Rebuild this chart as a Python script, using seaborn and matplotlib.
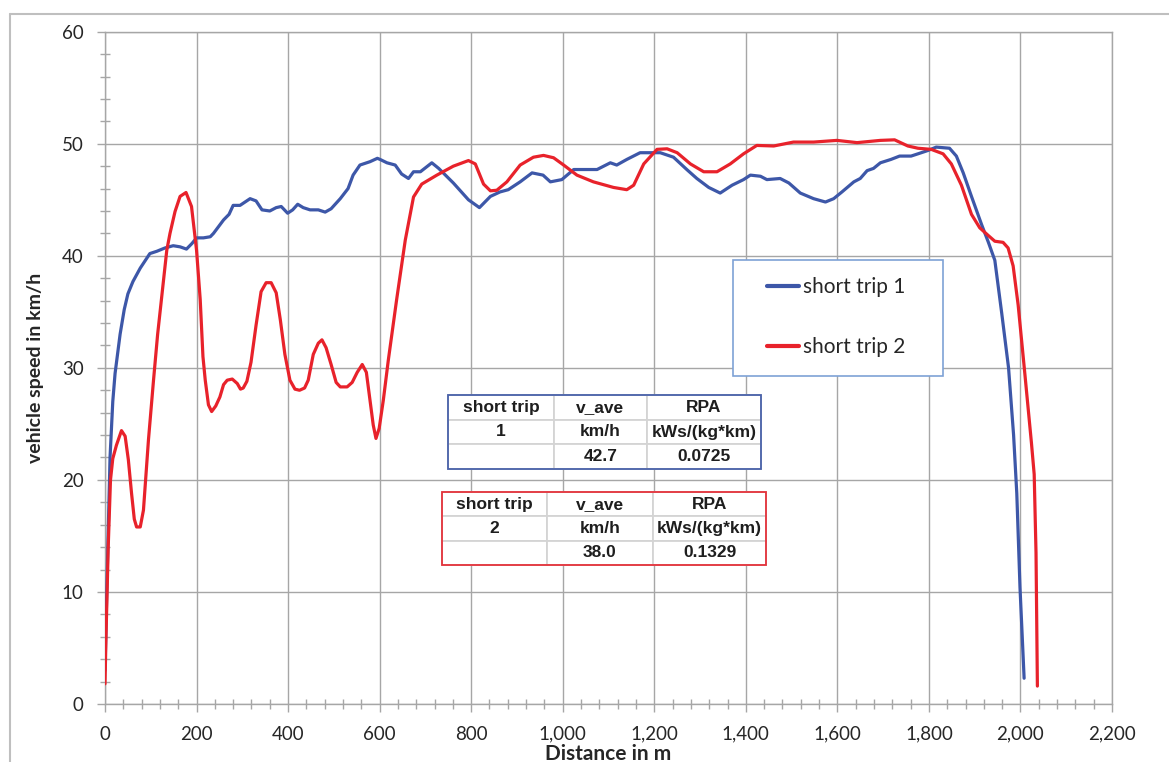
import matplotlib
matplotlib.use("Agg")
import matplotlib.pyplot as plt
from matplotlib.ticker import MultipleLocator, FuncFormatter
from matplotlib.patches import Rectangle
from matplotlib.lines import Line2D
import pandas as pd
import seaborn as sns

# ---- speed profiles (distance in m, speed in km/h) ----
dist_trip1 = [0, 5, 11, 17, 22, 33, 42, 50, 61, 77, 98, 113, 131, 149, 164, 178, 190,
              200, 215, 230, 237, 259, 271, 280, 295, 317, 330, 343, 360, 374, 385, 399,
              410, 421, 433, 448, 466, 481, 494, 514, 531, 542, 557, 579, 595, 601, 616,
              634, 648, 663, 674, 689, 714, 729, 761, 794, 818, 842, 863, 881, 907, 933,
              957, 973, 998, 1024, 1075, 1104, 1118, 1140, 1169, 1191, 1213, 1242, 1271,
              1293, 1319, 1344, 1370, 1395, 1410, 1432, 1446, 1475, 1494, 1519, 1548,
              1574, 1592, 1610, 1636, 1650, 1665, 1679, 1694, 1717, 1736, 1761, 1776,
              1798, 1816, 1845, 1860, 1875, 1893, 1915, 1930, 1944, 1959, 1974, 1985,
              1992, 1999, 2008]
speed_trip1 = [3.0, 12.0, 22.0, 27.0, 29.5, 33.0, 35.2, 36.6, 37.7, 38.9, 40.2, 40.4, 40.7,
               40.9, 40.8, 40.6, 41.1, 41.6, 41.6, 41.7, 42.0, 43.2, 43.7, 44.5, 44.5, 45.1,
               44.9, 44.1, 44.0, 44.3, 44.4, 43.8, 44.1, 44.6, 44.3, 44.1, 44.1, 43.9, 44.2,
               45.1, 46.0, 47.2, 48.1, 48.4, 48.7, 48.6, 48.3, 48.1, 47.3, 46.9, 47.5, 47.5,
               48.3, 47.8, 46.5, 45.0, 44.3, 45.3, 45.7, 45.9, 46.6, 47.4, 47.2, 46.6, 46.8,
               47.7, 47.7, 48.3, 48.1, 48.6, 49.2, 49.2, 49.2, 48.8, 47.7, 46.9, 46.1, 45.6,
               46.3, 46.8, 47.2, 47.1, 46.8, 46.9, 46.5, 45.6, 45.1, 44.8, 45.1, 45.7, 46.6,
               46.9, 47.6, 47.8, 48.3, 48.6, 48.9, 48.9, 49.1, 49.4, 49.7, 49.6, 48.9, 47.4,
               45.3, 42.8, 41.2, 39.6, 34.9, 30.0, 24.0, 18.8, 10.4, 2.3]

dist_trip2 = [0, 2, 7, 12, 17, 25, 36, 44, 51, 58, 64, 69, 77, 84, 95, 106, 115, 124, 135,
              142, 153, 164, 177, 189, 200, 208, 214, 219, 226, 233, 242, 251, 259, 267,
              278, 289, 296, 302, 310, 319, 330, 341, 352, 363, 374, 383, 393, 404, 415,
              425, 436, 444, 455, 466, 474, 483, 494, 505, 514, 529, 540, 551, 562, 571,
              579, 586, 592, 599, 608, 619, 630, 637, 656, 674, 692, 725, 761, 794, 809,
              827, 842, 856, 878, 907, 936, 958, 980, 1002, 1031, 1067, 1111, 1140, 1155,
              1177, 1206, 1228, 1250, 1279, 1308, 1337, 1366, 1395, 1424, 1461, 1504, 1548,
              1599, 1643, 1694, 1725, 1754, 1776, 1805, 1831, 1849, 1871, 1893, 1911, 1930,
              1944, 1962, 1973, 1984, 1995, 2010, 2024, 2030, 2034, 2037]
speed_trip2 = [1.8, 5.7, 14.0, 20.0, 21.9, 23.1, 24.4, 23.9, 21.8, 18.8, 16.5, 15.8, 15.8,
               17.3, 23.6, 28.9, 33.0, 36.4, 40.5, 42.0, 43.95, 45.3, 45.65, 44.4, 40.5,
               36.1, 31.0, 28.9, 26.7, 26.1, 26.6, 27.4, 28.5, 28.9, 29.0, 28.6, 28.1, 28.2,
               28.8, 30.5, 33.8, 36.8, 37.6, 37.6, 36.7, 34.3, 31.2, 28.9, 28.1, 28.0, 28.2,
               28.9, 31.2, 32.2, 32.5, 31.8, 30.3, 28.7, 28.3, 28.3, 28.7, 29.6, 30.3, 29.6,
               27.1, 24.9, 23.7, 24.6, 27.1, 30.7, 34.0, 36.05, 41.4, 45.25, 46.4, 47.2,
               48.0, 48.5, 48.2, 46.4, 45.8, 45.85, 46.6, 48.1, 48.8, 48.96, 48.75, 48.1,
               47.2, 46.6, 46.1, 45.9, 46.3, 48.2, 49.5, 49.55, 49.2, 48.2, 47.5, 47.5,
               48.2, 49.1, 49.85, 49.8, 50.15, 50.15, 50.3, 50.1, 50.3, 50.35, 49.8, 49.6,
               49.5, 49.1, 48.2, 46.3, 43.7, 42.5, 41.8, 41.3, 41.2, 40.7, 39.1, 35.6, 29.3,
               23.3, 20.5, 13.5, 1.6]

trip_names = ["short trip 1", "short trip 2"]
trip_colors = ["#3D57A8", "#E8222B"]

# ---- summary tables ----
table_header = ["short trip", "v_ave", "RPA"]
table_units = ["km/h", "kWs/(kg*km)"]
trip_ids = ["1", "2"]
v_ave = ["42.7", "38.0"]
rpa = ["0.0725", "0.1329"]

sns.set_theme(style="white")
plt.rcParams["font.family"] = ["Lato", "DejaVu Sans"]

W, H = 1169, 762
fig = plt.figure(figsize=(W / 100, H / 100), dpi=100)
fig.patch.set_facecolor("white")
L, R, T, B = 105, 1112, 31.7, 704
ax = fig.add_axes([L / W, 1 - B / H, (R - L) / W, (B - T) / H])


def ax_x(px):
    return (px - L) / (R - L)


def ax_y(py):
    return (B - py) / (B - T)


df = pd.concat([
    pd.DataFrame({"Distance": dist_trip1, "Speed": speed_trip1, "trip": trip_names[0]}),
    pd.DataFrame({"Distance": dist_trip2, "Speed": speed_trip2, "trip": trip_names[1]}),
], ignore_index=True)

sns.lineplot(data=df, x="Distance", y="Speed", hue="trip",
             palette=dict(zip(trip_names, trip_colors)), estimator=None, sort=False,
             linewidth=2.3, ax=ax, zorder=3)

ax.set_xlim(0, 2200)
ax.set_ylim(0, 60)
ax.xaxis.set_major_locator(MultipleLocator(200))
ax.xaxis.set_minor_locator(MultipleLocator(40))
ax.yaxis.set_major_locator(MultipleLocator(10))
ax.yaxis.set_minor_locator(MultipleLocator(2))
ax.xaxis.set_major_formatter(FuncFormatter(lambda v, p: f"{v:,.0f}"))

grid_col = "#A6A6A6"
ax.grid(which="major", color=grid_col, linewidth=1.0, zorder=0)
ax.set_axisbelow(True)
for sp in ax.spines.values():
    sp.set_color(grid_col)
    sp.set_linewidth(1.0)

ax.tick_params(which="major", direction="out", length=5.5, width=1.0, color=grid_col,
               labelsize=13.5, labelcolor="#262626")
ax.tick_params(axis="x", which="major", pad=10)
ax.tick_params(axis="y", which="major", pad=10)
ax.tick_params(which="minor", direction="inout", length=7.5, width=1.0, color=grid_col)
ax.tick_params(bottom=True, left=True, which="both")

ax.set_xlabel("Distance in m", fontsize=15, fontweight="bold", color="#262626")
ax.set_ylabel("vehicle speed in km/h", fontsize=14, fontweight="bold", color="#262626")
ax.xaxis.set_label_coords(0.5, -(744 - B) / (B - T))
ax.yaxis.set_label_coords(ax_x(44), 0.5)

# ---- legend in a framed box ----
handles, labels = ax.get_legend_handles_labels()
ax.add_patch(Rectangle((ax_x(733), ax_y(376)), (943 - 733) / (R - L), (376 - 260) / (B - T),
                       transform=ax.transAxes, facecolor="white", edgecolor="#7EA2D6",
                       linewidth=1.2, zorder=4))
leg = ax.legend(handles, labels, loc="center", bbox_to_anchor=(ax_x(836), ax_y(317)),
                frameon=False, fontsize=15, handlelength=1.55, handletextpad=0.15,
                labelspacing=1.9, borderpad=0)
leg.set_zorder(5)
for ln in leg.get_lines():
    ln.set_linewidth(3.0)
for t in leg.get_texts():
    t.set_color("#262626")


def draw_table(rows, left, top, right, bottom, col_px, border_color):
    bbox = [ax_x(left), ax_y(bottom), (right - left) / (R - L), (bottom - top) / (B - T)]
    total = sum(col_px)
    tbl = ax.table(cellText=rows, cellLoc="center", bbox=bbox,
                   colWidths=[c / total for c in col_px])
    tbl.auto_set_font_size(False)
    tbl.set_zorder(6)
    for cell in tbl.get_celld().values():
        cell.set_edgecolor("#D4D4D4")
        cell.set_linewidth(1.3)
        cell.set_facecolor("white")
        txt = cell.get_text()
        txt.set_fontsize(12.5)
        txt.set_fontweight("bold")
        txt.set_fontfamily(["Liberation Sans", "DejaVu Sans"])
        txt.set_color("#1E1E1E")
    ax.add_patch(Rectangle((bbox[0], bbox[1]), bbox[2], bbox[3], transform=ax.transAxes,
                           fill=False, edgecolor=border_color, linewidth=1.3, zorder=7))


rows1 = [table_header, [trip_ids[0], table_units[0], table_units[1]], ["", v_ave[0], rpa[0]]]
rows2 = [table_header, [trip_ids[1], table_units[0], table_units[1]], ["", v_ave[1], rpa[1]]]
draw_table(rows1, 448, 395, 761, 469, [106, 93, 114], "#4A62AA")
draw_table(rows2, 442, 492, 766, 565, [105, 106, 113], "#E5323B")

# ---- outer chart frame ----
frame_col = "#BFBFBF"
fig.add_artist(Line2D([10 / W, 10 / W], [0, 1 - 14 / H], transform=fig.transFigure,
                      color=frame_col, linewidth=1.5))
fig.add_artist(Line2D([10 / W, 1], [1 - 14 / H, 1 - 14 / H], transform=fig.transFigure,
                      color=frame_col, linewidth=1.5))

fig.savefig("out.png", dpi=100, facecolor="white")
